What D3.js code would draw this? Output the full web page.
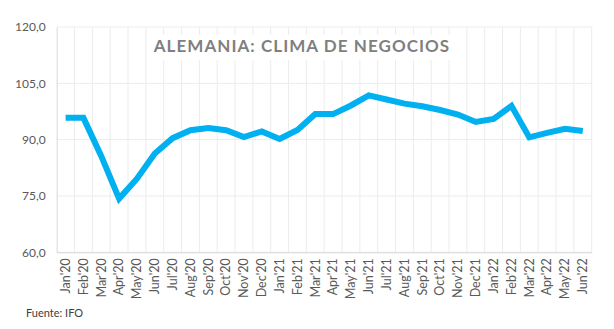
<!DOCTYPE html>
<html><head><meta charset="utf-8">
<script src="https://cdn.jsdelivr.net/npm/d3@7/dist/d3.min.js"></script>
<style>
html,body{margin:0;padding:0;background:#fff;}
svg{display:block;}
</style></head>
<body>
<script>
const categories = ["Jan'20","Feb'20","Mar'20","Apr'20","May'20","Jun'20","Jul'20","Aug'20","Sep'20","Oct'20","Nov'20","Dec'20",
  "Jan'21","Feb'21","Mar'21","Apr'21","May'21","Jun'21","Jul'21","Aug'21","Sep'21","Oct'21","Nov'21","Dec'21",
  "Jan'22","Feb'22","Mar'22","Apr'22","May'22","Jun'22"];
const values = [95.8,95.8,85.6,74.3,79.6,86.3,90.4,92.5,93.1,92.5,90.7,92.2,
  90.2,92.6,96.8,96.8,99.1,101.8,100.7,99.6,98.9,97.9,96.7,94.7,
  95.5,99.0,90.6,91.8,92.9,92.3];
const yTicks = [60,75,90,105,120];
const title = "ALEMANIA: CLIMA DE NEGOCIOS";
const source = "Fuente: IFO";

const W = 614, H = 329;
const m = {left:56.7, right:614-591.7, top:27, bottom:329-252.3};
const svg = d3.select("body").append("svg").attr("width",W).attr("height",H);

const x = d3.scaleBand().domain(categories).range([m.left, W-m.right]).padding(0);
const y = d3.scaleLinear().domain([60,120]).range([H-m.bottom, m.top]);

const font = "Lato, 'Open Sans', sans-serif";

// horizontal gridlines
svg.append("g").selectAll("line").data(yTicks).join("line")
  .attr("x1", m.left).attr("x2", W-m.right)
  .attr("y1", d=>y(d)).attr("y2", d=>y(d))
  .attr("stroke", "#ececec").attr("stroke-width",1);
// vertical gridlines at band boundaries
const bounds = categories.map(c=>x(c)).concat([x(categories[categories.length-1])+x.bandwidth()]);
svg.append("g").selectAll("line").data(bounds.slice(1)).join("line")
  .attr("x1", d=>d).attr("x2", d=>d)
  .attr("y1", y(60)).attr("y2", y(120))
  .attr("stroke", "#ececec").attr("stroke-width",1);

// y axis
const yAxis = d3.axisLeft(y).tickValues(yTicks).tickSize(0).tickPadding(11)
  .tickFormat(d=>d3.format(".1f")(d).replace(".",","));
const gy = svg.append("g").attr("transform",`translate(${m.left},0)`).call(yAxis);
gy.select(".domain").attr("stroke","#d9d9d9");
gy.selectAll("text").attr("fill","#595959").style("font-family",font).style("font-size","12px");

// x axis
const xAxis = d3.axisBottom(x).tickSize(0).tickPadding(6);
const gx = svg.append("g").attr("transform",`translate(0,${y(60)})`).call(xAxis);
gx.select(".domain").attr("stroke","#d9d9d9");
gx.selectAll("text")
  .attr("fill","#595959").style("font-family",font).style("font-size","12.5px")
  .attr("transform","rotate(-90)")
  .attr("text-anchor","end")
  .attr("x",-6).attr("y",0).attr("dy","0.35em");

// title with white background
const tg = svg.append("g");
tg.append("rect").attr("x",153).attr("y",35).attr("width",300).attr("height",25).attr("fill","#fff");
tg.append("text").attr("x",302).attr("y",52).attr("text-anchor","middle")
  .attr("fill","#7f7f7f").style("font-family",font).style("font-weight","bold")
  .style("font-size","17px").style("letter-spacing","1.05px").text(title);

// line
const line = d3.line().x((d,i)=>x(categories[i])+x.bandwidth()/2).y(d=>y(d));
svg.append("path").datum(values).attr("d",line)
  .attr("fill","none").attr("stroke","#00b0f0").attr("stroke-width",6)
  .attr("stroke-linejoin","miter").attr("stroke-linecap","butt");

// source
svg.append("text").attr("x",26).attr("y",317).attr("fill","#404040")
  .style("font-family",font).style("font-size","11px").text(source);
</script>
</body></html>
